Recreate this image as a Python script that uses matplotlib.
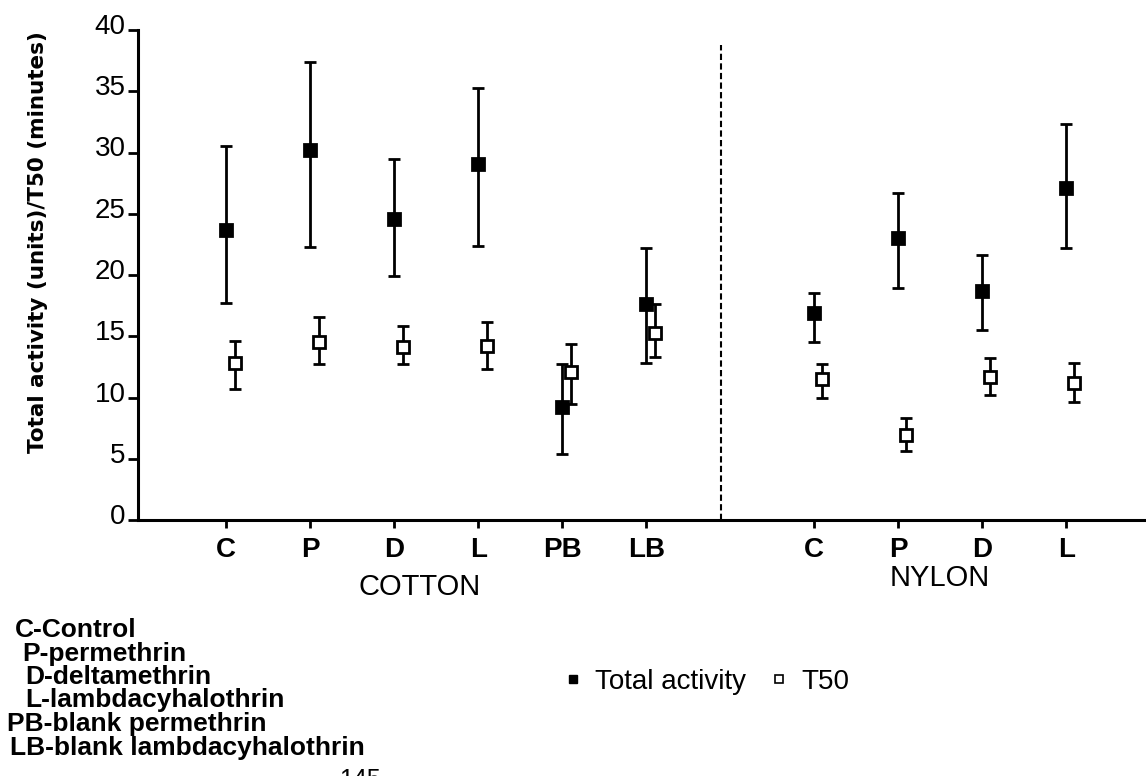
import numpy as np
import matplotlib
matplotlib.use("Agg")
import matplotlib.pyplot as plt
from matplotlib import font_manager
from matplotlib.lines import Line2D
from matplotlib.transforms import ScaledTranslation

# categories on each fabric
cotton_cats = ["C", "P", "D", "L", "PB", "LB"]
nylon_cats = ["C", "P", "D", "L"]

# total activity (units): mean, lower end and upper end of the bar
cotton_total = [23.7, 30.2, 24.6, 29.1, 9.2, 17.6]
cotton_total_lo = [17.7, 22.3, 19.9, 22.4, 5.4, 12.8]
cotton_total_hi = [30.5, 37.4, 29.5, 35.3, 12.7, 22.2]
nylon_total = [16.9, 23.0, 18.7, 27.1]
nylon_total_lo = [14.5, 18.9, 15.5, 22.2]
nylon_total_hi = [18.5, 26.7, 21.6, 32.3]

# T50 (minutes)
cotton_t50 = [12.8, 14.5, 14.1, 14.2, 12.1, 15.3]
cotton_t50_lo = [10.7, 12.7, 12.7, 12.3, 9.5, 13.3]
cotton_t50_hi = [14.6, 16.6, 15.8, 16.2, 14.4, 17.6]
nylon_t50 = [11.5, 6.9, 11.7, 11.2]
nylon_t50_lo = [10.0, 5.6, 10.2, 9.6]
nylon_t50_hi = [12.7, 8.3, 13.2, 12.8]

yticks = [0, 5, 10, 15, 20, 25, 30, 35, 40]

notes = ["C-Control", "P-permethrin", "D-deltamethrin", "L-lambdacyhalothrin",
         "PB-blank permethrin", "LB-blank lambdacyhalothrin"]

names = {f.name for f in font_manager.fontManager.ttflist}
narrow = "Liberation Sans Narrow" if "Liberation Sans Narrow" in names else "Liberation Sans"

W, H = 1146, 776
fig = plt.figure(figsize=(W / 100, H / 100), dpi=100)
ax = fig.add_axes([138 / W, (H - 520) / H, 1008 / W, 490 / H])

x_cot = np.arange(len(cotton_cats))
x_nyl = np.arange(len(nylon_cats)) + len(cotton_cats) + 1


def bars(x, m, lo, hi, filled):
    m = np.array(m); lo = np.array(lo); hi = np.array(hi)
    ax.errorbar(x, m, yerr=[m - lo, hi - m], fmt="s", ms=8.5,
                mfc="black" if filled else "white", mec="black", mew=2,
                ecolor="black", elinewidth=2, capsize=4.5, capthick=2.4,
                zorder=3)


bars(x_cot, cotton_total, cotton_total_lo, cotton_total_hi, True)
bars(x_cot + 0.11, cotton_t50, cotton_t50_lo, cotton_t50_hi, False)
bars(x_nyl, nylon_total, nylon_total_lo, nylon_total_hi, True)
bars(x_nyl + 0.09, nylon_t50, nylon_t50_lo, nylon_t50_hi, False)

# divider between fabrics
ax.axvline(5.89, ymin=0, ymax=0.97, color="black", lw=1.5,
           linestyle=(0, (3, 1.6)), zorder=1)

ax.set_xlim(-1.05, 10.95)
ax.set_ylim(0, 40)
for s in ["top", "right"]:
    ax.spines[s].set_visible(False)
for s in ["left", "bottom"]:
    ax.spines[s].set_linewidth(2.2)

ax.set_yticks(yticks)
ax.set_yticklabels([str(v) for v in yticks], fontsize=20, family="Liberation Sans")
ax.tick_params(axis="y", direction="out", length=7, width=2, pad=2)
shift = ScaledTranslation(0, 0.06, fig.dpi_scale_trans)
for lab in ax.get_yticklabels():
    lab.set_transform(lab.get_transform() + shift)

ax.set_xticks(list(x_cot) + list(x_nyl))
ax.set_xticklabels(cotton_cats + nylon_cats, fontsize=20, fontweight="bold",
                   family=narrow)
ax.tick_params(axis="x", direction="out", length=6, width=2, pad=6)

fig.text(38 / W, 1 - 242 / H, "Total activity (units)/T50 (minutes)",
         rotation=90, ha="center", va="center", fontsize=15.5,
         fontweight="bold", family="DejaVu Sans")

fig.text(420 / W, 1 - 587 / H, "COTTON", ha="center", va="center",
         fontsize=21, family="Liberation Sans")
fig.text(940 / W, 1 - 578 / H, "NYLON", ha="center", va="center",
         fontsize=21, family="Liberation Sans")

# abbreviations
note_x = [15, 22, 25, 25, 7, 10]
for i, (t, nx) in enumerate(zip(notes, note_x)):
    fig.text(nx / W, 1 - (637 + i * 23.5) / H, t, ha="left", va="baseline",
             fontsize=19, fontweight="bold", family="Liberation Sans")

handles = [
    Line2D([], [], ls="none", marker="s", ms=6, mfc="black", mec="black"),
    Line2D([], [], ls="none", marker="s", ms=6, mfc="white", mec="black", mew=1.2),
]
fig.legend(handles, ["Total activity", "T50"], loc="center",
           bbox_to_anchor=(707 / W, 1 - 682 / H), ncol=2, frameon=False,
           handlelength=0.6, handletextpad=0.5, columnspacing=0.9,
           prop={"family": narrow, "size": 20})

# page number at the lower edge
fig.text(360 / W, 1 - 768 / H, "145", ha="center", va="top", fontsize=18,
         family="Liberation Sans")

fig.savefig("out.png", dpi=100, facecolor="white")
